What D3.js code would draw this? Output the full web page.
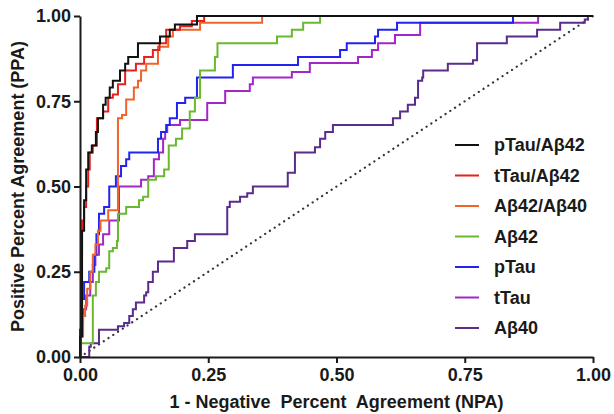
<!DOCTYPE html>
<html><head><meta charset="utf-8">
<script src="https://cdn.jsdelivr.net/npm/d3@7"></script>
<style>
body{margin:0;background:#fff}
svg{display:block}
text{font-family:"Liberation Sans",Arial,sans-serif;font-weight:bold;fill:#1a1a1a}
</style>
</head><body>
<svg id="c" width="614" height="414"></svg>
<script>
// ---- data ----
const seriesNames = ["pTau/A\u03b242","tTau/A\u03b242","A\u03b242/A\u03b240","A\u03b242","pTau","tTau","A\u03b240"];
const seriesColors = ["#111111","#e3211f","#f0642a","#68b92e","#2323f0","#a326c8","#5a2c8c"];

const pTauAb42 = [[0,0],[0,0.06],[0.004,0.37],[0.008,0.46],[0.012,0.55],[0.016,0.6],[0.023,0.62],[0.031,0.66],[0.035,0.7],[0.045,0.74],[0.05,0.76],[0.058,0.79],[0.064,0.81],[0.078,0.84],[0.088,0.86],[0.094,0.88],[0.113,0.92],[0.156,0.94],[0.175,0.96],[0.185,0.975],[0.228,1],[1,1]];
const tTauAb42 = [[0,0],[0.002,0.3],[0.004,0.4],[0.008,0.44],[0.012,0.5],[0.016,0.55],[0.019,0.6],[0.025,0.62],[0.033,0.7],[0.045,0.72],[0.055,0.76],[0.064,0.77],[0.074,0.8],[0.088,0.84],[0.109,0.86],[0.125,0.88],[0.142,0.9],[0.155,0.92],[0.168,0.96],[0.195,0.97],[0.218,0.985],[0.242,1],[1,1]];
const ab42Ab40 = [[0,0],[0,0.06],[0.006,0.12],[0.01,0.15],[0.014,0.2],[0.02,0.25],[0.025,0.3],[0.03,0.33],[0.035,0.37],[0.04,0.4],[0.055,0.43],[0.074,0.7],[0.082,0.71],[0.09,0.755],[0.105,0.79],[0.113,0.81],[0.119,0.84],[0.129,0.86],[0.152,0.91],[0.172,0.94],[0.181,0.96],[0.234,0.98],[0.355,1],[1,1]];
const ab42 = [[0,0],[0,0.04],[0.025,0.18],[0.031,0.22],[0.037,0.25],[0.051,0.26],[0.057,0.31],[0.064,0.32],[0.072,0.34],[0.074,0.42],[0.09,0.44],[0.115,0.46],[0.123,0.47],[0.133,0.52],[0.148,0.53],[0.164,0.55],[0.173,0.62],[0.187,0.64],[0.199,0.67],[0.214,0.72],[0.224,0.76],[0.234,0.84],[0.263,0.88],[0.268,0.92],[0.384,0.94],[0.413,0.96],[0.435,0.98],[0.468,1],[1,1]];
const pTau = [[0,0],[0,0.08],[0.004,0.17],[0.008,0.22],[0.018,0.25],[0.028,0.3],[0.032,0.36],[0.037,0.42],[0.047,0.44],[0.057,0.5],[0.07,0.53],[0.08,0.56],[0.09,0.58],[0.096,0.6],[0.152,0.64],[0.158,0.66],[0.168,0.68],[0.175,0.7],[0.189,0.745],[0.205,0.76],[0.228,0.82],[0.298,0.856],[0.425,0.88],[0.507,0.9],[0.52,0.92],[0.575,0.94],[0.581,0.96],[0.618,0.98],[0.844,1],[1,1]];
const tTau = [[0,0],[0.002,0.1],[0.006,0.14],[0.012,0.18],[0.02,0.22],[0.025,0.27],[0.03,0.3],[0.037,0.33],[0.045,0.36],[0.057,0.4],[0.076,0.5],[0.119,0.52],[0.133,0.53],[0.144,0.58],[0.154,0.6],[0.162,0.64],[0.166,0.66],[0.17,0.68],[0.195,0.695],[0.248,0.745],[0.283,0.78],[0.331,0.8],[0.337,0.82],[0.413,0.836],[0.448,0.862],[0.542,0.88],[0.569,0.9],[0.581,0.92],[0.614,0.944],[0.663,0.98],[0.893,1],[1,1]];
const ab40 = [[0,0],[0.018,0.03],[0.021,0.04],[0.037,0.08],[0.074,0.09],[0.086,0.1],[0.096,0.12],[0.103,0.14],[0.109,0.16],[0.125,0.18],[0.129,0.19],[0.133,0.22],[0.142,0.25],[0.152,0.28],[0.183,0.32],[0.209,0.34],[0.224,0.36],[0.287,0.44],[0.292,0.455],[0.312,0.47],[0.326,0.48],[0.337,0.5],[0.405,0.54],[0.419,0.6],[0.458,0.615],[0.468,0.64],[0.478,0.66],[0.493,0.68],[0.61,0.7],[0.624,0.72],[0.639,0.74],[0.653,0.76],[0.659,0.81],[0.667,0.82],[0.669,0.84],[0.717,0.86],[0.766,0.87],[0.774,0.92],[0.832,0.94],[0.891,0.96],[0.936,0.98],[0.984,0.99],[0.99,1],[1,1]];
const seriesData = [pTauAb42,tTauAb42,ab42Ab40,ab42,pTau,tTau,ab40];

const xTicks = [0,0.25,0.5,0.75,1];
const yTicks = [0,0.25,0.5,0.75,1];
const xTitle = "1 - Negative  Percent  Agreement (NPA)";
const yTitle = "Positive Percent Agreement (PPA)";

// ---- chart ----
const svg = d3.select("#c");
const x = d3.scaleLinear().domain([0,1]).range([80,593]);
const y = d3.scaleLinear().domain([0,1]).range([357,16]);

// reference diagonal
svg.append("line")
  .attr("x1",x(0)).attr("y1",y(0)).attr("x2",x(1)).attr("y2",y(1))
  .attr("stroke","#333").attr("stroke-width",2.2)
  .attr("stroke-dasharray","0.1 5.6").attr("stroke-linecap","round");

const line = d3.line().x(d=>x(d[0])).y(d=>y(d[1])).curve(d3.curveStepAfter);
for (let i = seriesData.length-1; i >= 0; i--) {
  svg.append("path").datum(seriesData[i])
    .attr("d",line).attr("fill","none")
    .attr("stroke",seriesColors[i]).attr("stroke-width",2);
}

// axes
const fmt = d3.format(".2f");
const gx = svg.append("g").attr("transform",`translate(0,${y(0)})`)
  .call(d3.axisBottom(x).tickValues(xTicks).tickFormat(fmt).tickSize(6).tickSizeOuter(0).tickPadding(5));
const gy = svg.append("g").attr("transform",`translate(${x(0)},0)`)
  .call(d3.axisLeft(y).tickValues(yTicks).tickFormat(fmt).tickSize(6).tickSizeOuter(0).tickPadding(3));
[gx,gy].forEach(g=>{
  g.select(".domain").attr("stroke","#1a1a1a").attr("stroke-width",2);
  g.selectAll(".tick line").attr("stroke","#1a1a1a").attr("stroke-width",2);
  g.selectAll(".tick text").attr("font-size",18).attr("fill","#1a1a1a")
    .style("font-family","'Liberation Sans',Arial,sans-serif").style("font-weight","bold");
});

svg.append("text").attr("x",(x(0)+x(1))/2).attr("y",408)
  .attr("text-anchor","middle").attr("font-size",18).style("white-space","pre").text(xTitle);
svg.append("text").attr("transform",`translate(24,${(y(0)+y(1))/2}) rotate(-90)`)
  .attr("text-anchor","middle").attr("font-size",18).text(yTitle);

// legend
const lg = svg.append("g");
seriesNames.forEach((n,i)=>{
  const yy = 145 + i*30.5;
  lg.append("line").attr("x1",455).attr("x2",479).attr("y1",yy).attr("y2",yy)
    .attr("stroke",seriesColors[i]).attr("stroke-width",2);
  lg.append("text").attr("x",494).attr("y",yy).attr("dy","0.35em")
    .attr("font-size",18).text(n);
});
</script>
</body></html>
